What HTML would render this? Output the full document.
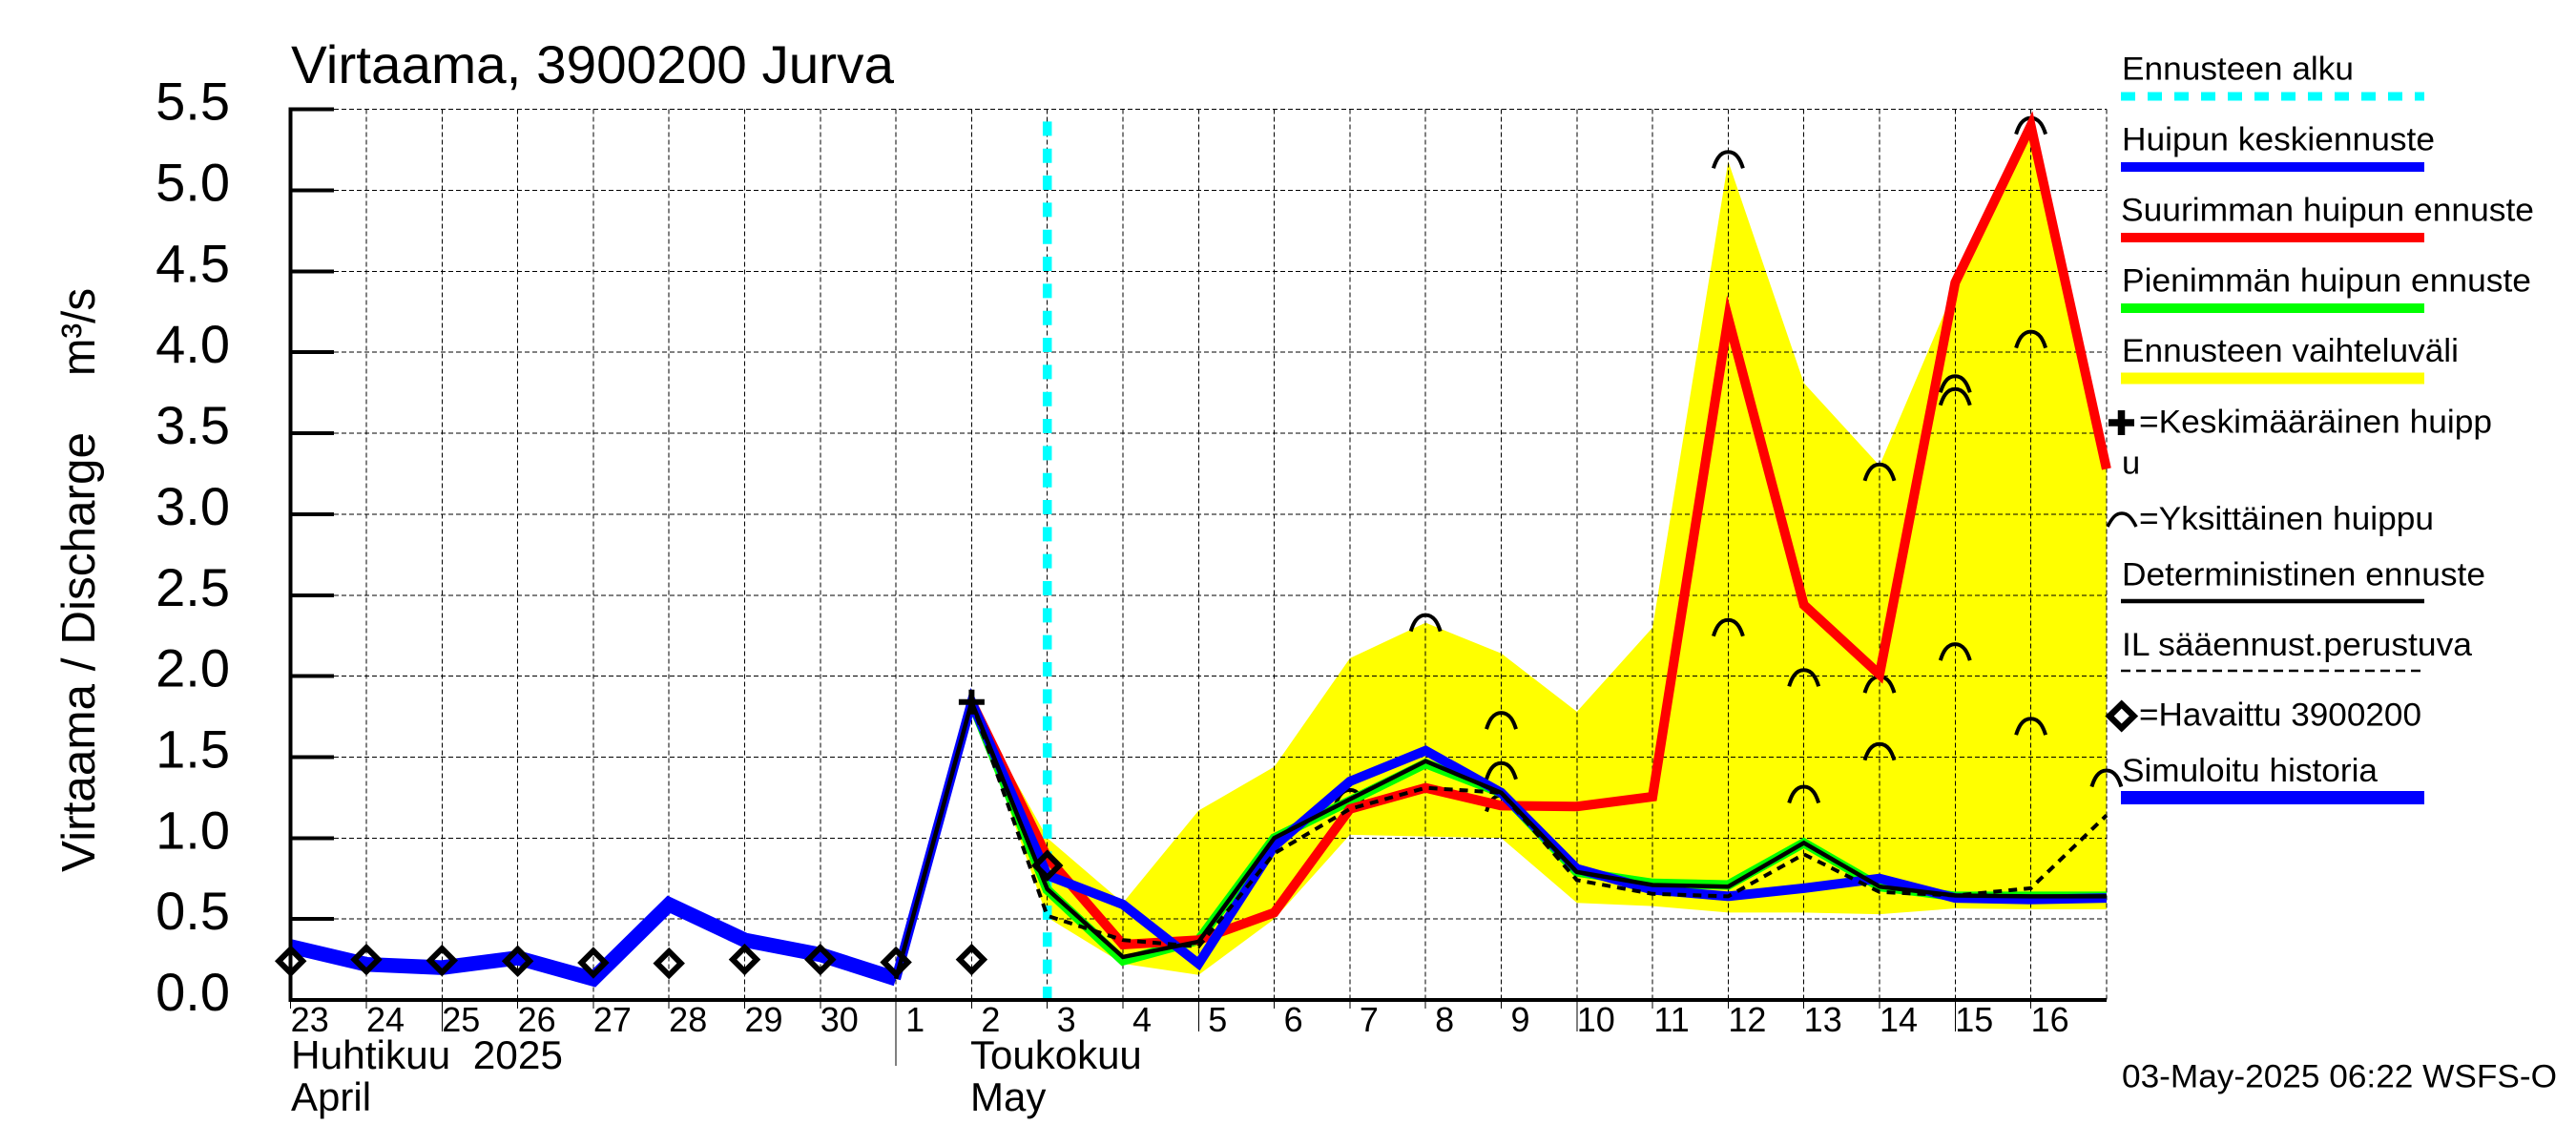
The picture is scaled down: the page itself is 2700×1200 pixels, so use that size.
<!DOCTYPE html>
<html lang="fi">
<head>
<meta charset="utf-8">
<title>Virtaama, 3900200 Jurva</title>
<style>
html,body{margin:0;padding:0;background:#fff;}
svg{display:block;}
text{font-family:"Liberation Sans",Arial,sans-serif;fill:#000;}
</style>
</head>
<body>
<svg id="chart" xmlns="http://www.w3.org/2000/svg" width="2700" height="1200" viewBox="0 0 2700 1200">
  <rect width="2700" height="1200" fill="#fff"/>
  <text x="305" y="87" font-size="56" textLength="632" lengthAdjust="spacingAndGlyphs">Virtaama, 3900200 Jurva</text>
  <text transform="translate(99,914) rotate(-90)" font-size="49" textLength="461" lengthAdjust="spacingAndGlyphs">Virtaama / Discharge</text>
  <text transform="translate(99,394) rotate(-90)" font-size="49" textLength="92" lengthAdjust="spacingAndGlyphs">m³/s</text>
  <g id="plot"></g>
  <text x="305" y="1120" font-size="42" textLength="285" lengthAdjust="spacingAndGlyphs" xml:space="preserve">Huhtikuu  2025</text>
  <text x="305" y="1164" font-size="42">April</text>
  <text x="1017" y="1120" font-size="42">Toukokuu</text>
  <text x="1017" y="1164" font-size="42">May</text>

  <g font-size="34.5">
    <g>
      <text x="2224" y="83.5" textLength="243" lengthAdjust="spacingAndGlyphs">Ennusteen alku</text>
      <line x1="2223" x2="2541" y1="101" y2="101" stroke="#00ffff" stroke-width="9" stroke-dasharray="15 13"/>
    </g>
    <g>
      <text x="2224" y="157.5" textLength="328" lengthAdjust="spacingAndGlyphs">Huipun keskiennuste</text>
      <line x1="2223" x2="2541" y1="175" y2="175" stroke="#0000ff" stroke-width="10"/>
    </g>
    <g>
      <text x="2223" y="231.5" textLength="433" lengthAdjust="spacingAndGlyphs">Suurimman huipun ennuste</text>
      <line x1="2223" x2="2541" y1="249" y2="249" stroke="#ff0000" stroke-width="10"/>
    </g>
    <g>
      <text x="2224" y="305.5" textLength="429" lengthAdjust="spacingAndGlyphs">Pienimmän huipun ennuste</text>
      <line x1="2223" x2="2541" y1="323" y2="323" stroke="#00ff00" stroke-width="10"/>
    </g>
    <g>
      <text x="2224" y="379" textLength="353" lengthAdjust="spacingAndGlyphs">Ennusteen vaihteluväli</text>
      <line x1="2223" x2="2541" y1="396.5" y2="396.5" stroke="#ffff00" stroke-width="12"/>
    </g>
    <g>
      <path d="M2210 443H2237M2223.5 430V456" fill="none" stroke="#000" stroke-width="7.5"/>
      <text x="2242" y="453.5" textLength="370" lengthAdjust="spacingAndGlyphs">=Keskimääräinen huipp</text>
      <text x="2224" y="496.5">u</text>
    </g>
    <g>
      <path d="M2209 552C2214 542 2218 538 2224 538C2230 538 2234 542 2239 552" fill="none" stroke="#000" stroke-width="3.5"/>
      <text x="2242" y="555" textLength="309" lengthAdjust="spacingAndGlyphs">=Yksittäinen huippu</text>
    </g>
    <g>
      <text x="2224" y="613.5" textLength="381" lengthAdjust="spacingAndGlyphs">Deterministinen ennuste</text>
      <line x1="2223" x2="2541" y1="630" y2="630" stroke="#000" stroke-width="4.5"/>
    </g>
    <g>
      <text x="2224" y="687" textLength="367" lengthAdjust="spacingAndGlyphs">IL sääennust.perustuva</text>
      <line x1="2223" x2="2541" y1="703" y2="703" stroke="#000" stroke-width="2.5" stroke-dasharray="10 6"/>
    </g>
    <g>
      <path d="M2223.7 738L2236.5 750.5L2223.7 763L2211 750.5Z" fill="none" stroke="#000" stroke-width="6.5"/>
      <text x="2242" y="760.5" textLength="296" lengthAdjust="spacingAndGlyphs">=Havaittu 3900200</text>
    </g>
    <g>
      <text x="2224" y="819" textLength="268" lengthAdjust="spacingAndGlyphs">Simuloitu historia</text>
      <line x1="2223" x2="2541" y1="836" y2="836" stroke="#0000ff" stroke-width="14"/>
    </g>
  </g>
  <text x="2224" y="1139.5" font-size="34" textLength="456" lengthAdjust="spacingAndGlyphs">03-May-2025 06:22 WSFS-O</text>
</svg>
<script>
const dayLabels = ['23','24','25','26','27','28','29','30','1','2','3','4','5','6','7','8','9','10','11','12','13','14','15','16'];
const longTickLabels = ['25','5','10','15'];
const monthStartLabel = '1';
const yTickLabels = ['0.0','0.5','1.0','1.5','2.0','2.5','3.0','3.5','4.0','4.5','5.0','5.5'];
const simulatedHistory = [0.33,0.22,0.20,0.26,0.13,0.59,0.37,0.28,0.13];
const rangeUpper = [null,null,null,null,null,null,null,null,null,1.84,1.00,0.60,1.17,1.44,2.11,2.33,2.14,1.78,2.30,5.18,3.81,3.30,4.40,5.41,3.28];
const rangeLower = [null,null,null,null,null,null,null,null,null,1.84,0.51,0.224,0.155,0.50,1.02,1.01,1.00,0.60,0.58,0.54,0.54,0.53,0.565,0.56,0.56];
const smallestPeak = [null,null,null,null,null,null,null,null,null,1.84,0.68,0.243,0.37,1.00,1.23,1.46,1.28,0.79,0.72,0.71,0.97,0.70,0.64,0.64,0.64];
const largestPeak = [null,null,null,null,null,null,null,null,null,1.84,0.88,0.342,0.37,0.54,1.18,1.31,1.20,1.195,1.255,4.21,2.44,2.01,4.43,5.40,3.28];
const meanPeak = [null,null,null,null,null,null,null,null,0.13,1.84,0.77,0.59,0.224,0.95,1.35,1.54,1.28,0.81,0.68,0.64,0.69,0.75,0.63,0.62,0.63];
const deterministic = [null,null,null,null,null,null,null,null,0.13,1.84,0.685,0.265,0.36,1.00,1.24,1.475,1.28,0.79,0.71,0.70,0.97,0.70,0.645,0.64,0.64];
const weatherBased = [null,null,null,null,null,null,null,null,null,1.84,0.52,0.37,0.33,0.905,1.18,1.31,1.28,0.74,0.655,0.64,0.90,0.667,0.645,0.69,1.14];
const observed = [0.24,0.25,0.244,0.24,0.23,0.226,0.25,0.25,0.233,0.25,0.83];
const averagePeakDay = [9];
const averagePeakValue = [1.84];
const singlePeakDays = [14,15,16,16,16,19,19,20,20,21,21,21,22,22,22,23,23,23,24];
const singlePeakValues = [1.25,2.33,1.726,1.416,1.217,5.19,2.30,1.99,1.27,3.26,1.95,1.534,3.805,3.726,2.15,5.40,4.08,1.69,1.37];
const forecastStartDay = 10;
const yMax = 5.5;

const SVGNS = 'http://www.w3.org/2000/svg';
const plot = document.getElementById('plot');
const X0 = 304.7, DX = 79.3, Y0 = 1048, PY = 169.7;
function x(i){ return X0 + DX * i; }
function y(v){ return Y0 - PY * v; }
function make(tag, attrs){
  const el = document.createElementNS(SVGNS, tag);
  for (const k in attrs) el.setAttribute(k, attrs[k]);
  plot.appendChild(el);
  return el;
}
function pointsOf(series){
  const pts = [];
  series.forEach(function(v, i){ if (v !== null) pts.push(x(i).toFixed(1) + ',' + y(v).toFixed(1)); });
  return pts;
}
function drawLine(series, color, width, dash){
  return make('polyline', {
    points: pointsOf(series).join(' '),
    fill: 'none',
    stroke: color,
    'stroke-width': width,
    'stroke-linejoin': 'miter',
    'stroke-miterlimit': 6,
    'stroke-dasharray': dash || 'none'
  });
}

/* forecast range band */
const band = make('polygon', {
  points: pointsOf(rangeUpper).concat(pointsOf(rangeLower).reverse()).join(' '),
  fill: '#ffff00'
});



/* horizontal grid, y ticks and tick labels */
yTickLabels.forEach(function(label){
  const v = parseFloat(label);
  const grid = make('line', {x1: 350, x2: x(dayLabels.length), y1: y(v), y2: y(v), stroke: '#000', 'stroke-width': 1, 'stroke-dasharray': '5 3', 'shape-rendering': 'crispEdges'});
  
  
  const tick = make('line', {x1: x(0), x2: 350, y1: y(v), y2: y(v), stroke: '#000', 'stroke-width': 4, 'shape-rendering': 'crispEdges'});
  
  
  const t = make('text', {x: 241, y: y(v) + 11, 'font-size': 56, 'text-anchor': 'end'});
  t.textContent = label;
  
  
});

/* vertical grid, x ticks and day labels */
dayLabels.concat(['']).forEach(function(label, i){
  if (i > 0) {
    const grid = make('line', {x1: x(i), x2: x(i), y1: y(yMax), y2: Y0, stroke: '#000', 'stroke-width': 1, 'stroke-dasharray': '5 3', 'shape-rendering': 'crispEdges'});
    
    
  }
  if (label === '') return;
  const isLong = longTickLabels.indexOf(label) >= 0;
  const isMonth = label === monthStartLabel;
  const bottom = isMonth ? 1117 : (isLong ? 1081 : 1057);
  const tick = make('line', {x1: x(i), x2: x(i), y1: Y0, y2: bottom, stroke: '#000', 'stroke-width': 1, 'shape-rendering': 'crispEdges'});
  
  
  const t = make('text', {x: x(i) + 20, y: 1081, 'font-size': 36, 'text-anchor': 'middle'});
  t.textContent = label;
  
  
});

/* forecast start marker */
const startLine = make('line', {x1: x(forecastStartDay), x2: x(forecastStartDay), y1: 127.4, y2: Y0 + 1, stroke: '#00ffff', 'stroke-width': 9.5, 'stroke-dasharray': '15 13.33'});



/* single peak arcs */
singlePeakDays.forEach(function(d, i){
  const g = make('path', {
    d: 'M-15.5 9C-13 1 -9 -8 0 -8C9 -8 13 1 15.5 9',
    fill: 'none',
    stroke: '#000',
    'stroke-width': 4,
    transform: 'translate(' + x(d).toFixed(1) + ',' + y(singlePeakValues[i]).toFixed(1) + ')'
  });
  
  
});

/* series */
const greenLine = drawLine(smallestPeak, '#00ff00', 10);


const redLine = drawLine(largestPeak, '#ff0000', 10);


const historyLine = drawLine(simulatedHistory, '#0000ff', 15.5);


const blueLine = drawLine(meanPeak, '#0000ff', 10);


const detLine = drawLine(deterministic, '#000000', 4.5);


const ilLine = drawLine(weatherBased, '#000000', 4, '9 7');



/* observed diamonds */
observed.forEach(function(v, i){
  const d = make('path', {
    d: 'M0 -12.5L12.5 0L0 12.5L-12.5 0Z',
    fill: 'none',
    stroke: '#000',
    'stroke-width': 6,
    transform: 'translate(' + x(i).toFixed(1) + ',' + y(v).toFixed(1) + ')'
  });
  
  
});

/* average peak plus */
averagePeakDay.forEach(function(d, i){
  const p = make('path', {
    d: 'M-13.5 0H13.5M0 -13V13',
    fill: 'none',
    stroke: '#000',
    'stroke-width': 6,
    transform: 'translate(' + x(d).toFixed(1) + ',' + y(averagePeakValue[i]).toFixed(1) + ')'
  });
  
  
});

/* axes */
const yAxis = make('line', {x1: x(0), x2: x(0), y1: y(yMax) - 2, y2: Y0 + 2, stroke: '#000', 'stroke-width': 4, 'shape-rendering': 'crispEdges'});


const xAxis = make('line', {x1: x(0), x2: x(dayLabels.length), y1: Y0, y2: Y0, stroke: '#000', 'stroke-width': 4, 'shape-rendering': 'crispEdges'});


</script>
</body>
</html>
